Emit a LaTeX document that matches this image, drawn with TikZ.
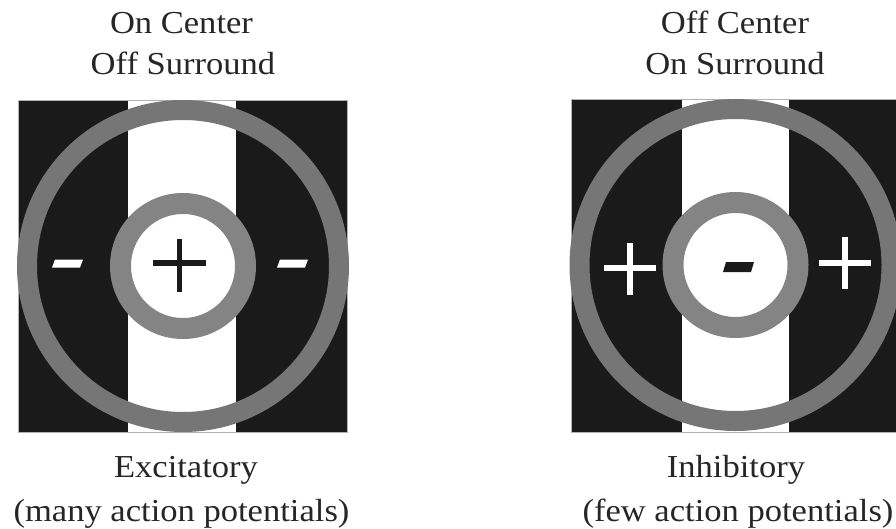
\documentclass[tikz,border=0pt]{standalone}
\usepackage{fontspec}
\setmainfont{Liberation Serif}[FakeStretch=1.08]
\definecolor{stripeblack}{HTML}{1A1A1A}
\definecolor{ringouter}{HTML}{767676}
\definecolor{ringinner}{HTML}{848484}
\tikzset{
  lbl/.style={font=\fontsize{32}{38}\selectfont, anchor=base, inner sep=0pt, text=black!85},
  outring/.style={draw=ringouter, line width=20pt},
  inring/.style={draw=ringinner, line width=21pt},
  plusbar/.style={line width=5.5pt},
}
\begin{document}
\begin{tikzpicture}[x=1pt,y=-1pt]
\useasboundingbox (0,0) rectangle (896,529);
\fill[white] (0,0) rectangle (896,529);
\clip (0,0) rectangle (896,529);
% ---------- left panel ----------
\fill[stripeblack] (18,100) rectangle (347,432);
\fill[white] (128,100) rectangle (236,432);
\draw[gray!60, line width=0.6pt] (18,100) rectangle (347,432);
\draw[outring] (183,266) circle[radius=156];
\draw[inring] (183,266) circle[radius=62.5];
\draw[plusbar, stripeblack] (153,263) -- (206,263);
\draw[plusbar, stripeblack] (179.5,239) -- (179.5,292);
\fill[white] (55,259.5) -- (83,259.5) -- (80,267.5) -- (52,267.5) -- cycle;
\fill[white] (280,259.5) -- (308,259.5) -- (305,267.5) -- (277,267.5) -- cycle;
% ---------- right panel ----------
\fill[stripeblack] (571,99) rectangle (900,432);
\fill[white] (682,99) rectangle (789,432);
\draw[gray!60, line width=0.6pt] (571,99) rectangle (900,432);
\draw[outring] (735.5,265) circle[radius=156];
\draw[inring] (735.5,265) circle[radius=62.5];
\fill[stripeblack] (726,262) -- (754,262) -- (751,272) -- (723,272) -- cycle;
\draw[plusbar, white] (604,268) -- (656,268);
\draw[plusbar, white] (630,243) -- (630,295);
\draw[plusbar, white] (819,263) -- (871,263);
\draw[plusbar, white] (845,237) -- (845,289);
% ---------- labels ----------
\node[lbl] (tl1) at (181.5,34) {On Center};
\node[lbl] (tl2) at (183,75) {Off Surround};
\node[lbl] (tr1) at (735,34) {Off Center};
\node[lbl] (tr2) at (735,75) {On Surround};
\node[lbl] (bl1) at (186,477) {Excitatory};
\node[lbl] (bl2) at (181.5,521) {(many action potentials)};
\node[lbl] (br1) at (736,477) {Inhibitory};
\node[lbl] (br2) at (738,521) {(few action potentials)};
\end{tikzpicture}
\end{document}
